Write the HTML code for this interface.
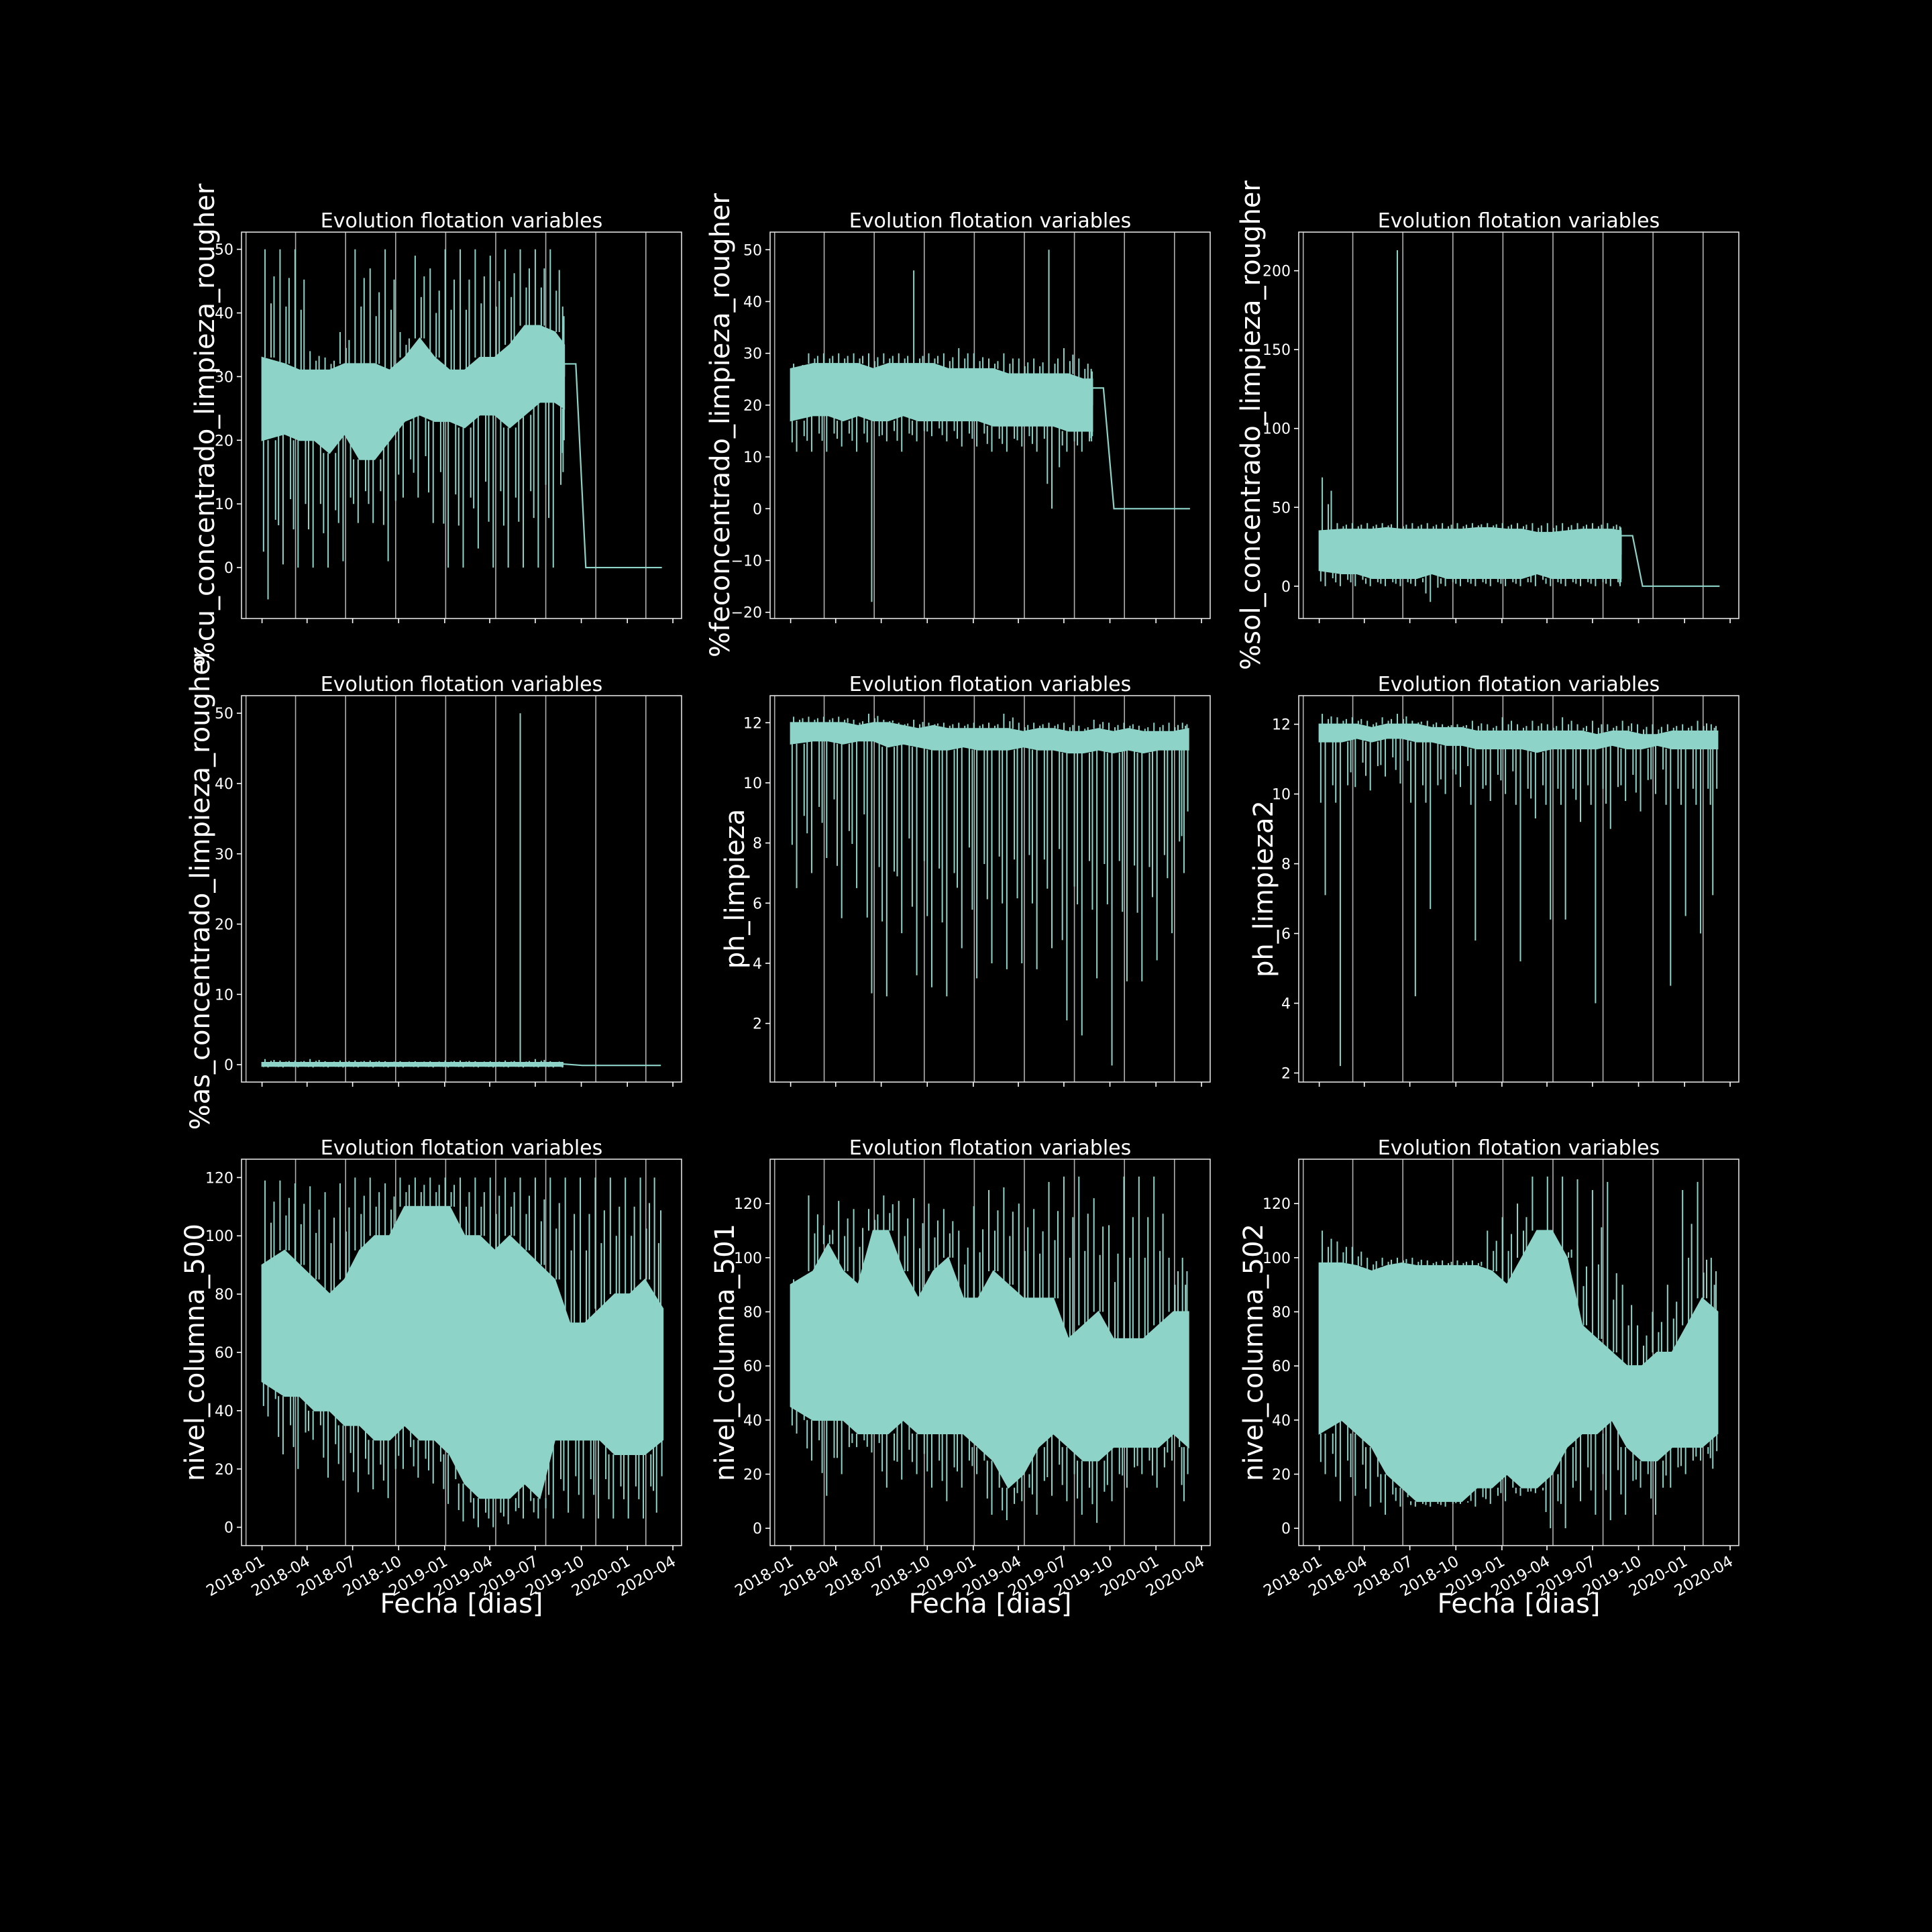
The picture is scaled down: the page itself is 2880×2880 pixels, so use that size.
<!DOCTYPE html>
<html><head><meta charset="utf-8"><style>
html,body{margin:0;padding:0;background:#000;}
svg{display:block;}
text{font-family:"DejaVu Sans","Liberation Sans",sans-serif;fill:#fff;}
</style></head><body>
<svg id="chart" width="2880" height="2880" viewBox="0 0 2880 2880" xmlns="http://www.w3.org/2000/svg">
<rect x="0" y="0" width="2880" height="2880" fill="#000"/>
</svg>
<script>
// ---- shared x axis data ----
const tickDays = [0, 90, 181, 273, 365, 455, 546, 638, 730, 821];
const tickLabels = ["2018-01","2018-04","2018-07","2018-10","2019-01","2019-04","2019-07","2019-10","2020-01","2020-04"];
const gridDays = [-32, 67, 167, 267, 367, 467, 567, 667, 767];

// ---- panel 1: %cu ----
const cuLo  = [20,21,20,20,18,21,17,17,20,23,24,23,23,22,24,24,22,24,26,26,25];
const cuHi  = [33,32,31,31,31,32,32,32,31,33,36,33,31,31,33,33,35,38,38,37,35];
const cuMax = [50,50,50,34,33,37,50,47,50,37,49,47,50,50,50,49,50,50,50,50,41];
const cuMin = [-5,0.5,0,0,0,1,7,7,1,11,11,7,0,0,3,0,0,0,0,0,15];
const cuTailDays = [604,627,647,799];
const cuTailVals = [32,32,0,0];
// ---- panel 2: %fe ----
const feLo  = [17,18,18,17,18,17,17,18,17,17,17,17,17,16,16,16,16,16,15,15,15];
const feHi  = [27,28,28,28,28,27,28,28,28,28,27,27,27,27,26,26,26,26,26,25,25];
const feMax = [28,30,30,30,30,30,30,30,46,30,30,31,30,29,30,29,29,50,31,29,27];
const feMin = [11,11,11,12,11,-18,13,11,13,14,13,12,12,11,11,12,11,0,11,11,13];
const feTailDays = [603,625,646,798];
const feTailVals = [23.3,23.3,0,0];
// ---- panel 3: %sol ----
const solLo  = [10,8,8,5,5,5,5,8,5,5,5,5,5,5,8,5,5,5,5,5,5];
const solHi  = [35,36,36,36,37,36,36,36,36,36,37,37,36,36,34,34,35,36,36,36,35];
const solMax = [69,40,40,40,40,213,40,40,40,40,40,40,40,40,40,40,40,40,40,40,38];
const solMin = [0,0,0,0,0,0,0,-10,0,0,0,0,0,0,0,0,0,0,0,0,0];
const solTailDays = [603,626,646,800];
const solTailVals = [32,32,0,0];
// ---- panel 4: %as ----
const asLo  = [-0.2,-0.2,-0.2,-0.2,-0.2,-0.2,-0.2,-0.2,-0.2,-0.2,-0.2,-0.2,-0.2,-0.2,-0.2,-0.2,-0.2,-0.2,-0.2,-0.2,-0.2];
const asHi  = [0.3,0.3,0.3,0.3,0.3,0.3,0.3,0.3,0.3,0.3,0.3,0.3,0.3,0.3,0.3,0.3,0.3,0.3,0.3,0.3,0.3];
const asMax = [0.8,0.6,0.6,0.8,0.5,0.6,0.6,0.6,0.5,0.5,0.5,0.5,0.6,0.6,0.5,0.5,0.6,50,0.8,0.5,0.4];
const asMin = [-0.4,-0.4,-0.4,-0.4,-0.4,-0.4,-0.4,-0.4,-0.4,-0.4,-0.4,-0.4,-0.4,-0.4,-0.4,-0.4,-0.4,-0.4,-0.4,-0.4,-0.4];
const asTailDays = [601,640,797];
const asTailVals = [0.1,-0.1,-0.1];
// ---- panel 5: ph_limpieza ----
const phLo  = [11.3,11.4,11.4,11.3,11.4,11.4,11.2,11.3,11.2,11.1,11.1,11.2,11.1,11.1,11.1,11.2,11.1,11.1,11.0,11.0,11.1,11.0,11.1,11.0,11.1,11.1,11.1];
const phHi  = [12.0,12.0,12.0,12.0,11.9,12.0,12.0,11.9,11.8,11.9,11.8,11.8,11.8,11.8,11.8,11.7,11.8,11.8,11.7,11.7,11.8,11.7,11.8,11.7,11.7,11.7,11.8];
const phMax = [12.2,12.2,12.2,12.2,12.1,12.3,12.1,12.0,12.1,12.0,12.0,12.0,12.0,12.0,12.3,12.0,12.0,12.0,12.0,11.9,12.1,12.0,12.0,11.9,12.0,12.0,12.0];
const phMin = [6.5,7.0,7.5,5.5,6.5,3.0,2.9,5.0,3.6,3.2,2.9,4.5,3.5,4.0,3.8,4.0,3.8,4.5,2.1,1.6,3.5,0.6,3.4,3.4,4.1,5.0,7.0];
// ---- panel 6: ph_limpieza2 ----
const ph2Lo  = [11.5,11.5,11.6,11.5,11.6,11.6,11.5,11.5,11.4,11.4,11.3,11.3,11.3,11.3,11.2,11.3,11.3,11.3,11.3,11.4,11.3,11.3,11.4,11.3,11.3,11.3,11.3];
const ph2Hi  = [12.0,12.0,12.0,11.9,12.0,12.0,12.0,11.9,11.9,11.9,11.8,11.8,11.8,11.8,11.8,11.8,11.8,11.8,11.7,11.8,11.8,11.7,11.7,11.8,11.8,11.8,11.8];
const ph2Max = [12.3,12.2,12.2,12.1,12.2,12.3,12.1,12.1,12.0,12.0,12.1,12.0,12.2,12.0,12.1,12.0,12.2,12.0,12.1,12.0,12.1,12.0,12.0,12.0,12.0,12.1,12.0];
const ph2Min = [7.1,2.2,10.2,10.1,10.5,10.3,4.2,6.7,10.0,10.2,5.8,9.8,10.0,5.2,9.3,6.4,6.4,9.2,4.0,9.0,9.8,9.5,10.0,4.5,6.5,6.0,7.1];
// ---- panel 7: nivel_columna_500 ----
const n500Lo  = [50,45,45,40,40,35,35,30,30,35,30,30,25,15,10,10,10,15,10,30,30,30,30,25,25,25,30];
const n500Hi  = [90,95,90,85,80,85,95,100,100,110,110,110,110,100,100,95,100,95,90,85,70,70,75,80,80,85,75];
const n500Max = [119,119,118,117,115,118,120,120,118,120,120,120,120,120,120,120,120,120,120,120,120,120,120,120,120,120,120];
const n500Min = [38,25,20,30,17,16,12,13,10,20,17,15,8,2,0,0,1,3,3,3,5,3,3,3,3,3,5];
// ---- panel 8: nivel_columna_501 ----
const n501Lo  = [45,40,40,40,35,35,35,40,35,35,35,35,30,25,15,20,30,35,30,25,25,30,30,30,30,35,30];
const n501Hi  = [90,95,105,95,90,110,110,95,85,95,100,85,85,95,90,85,85,85,70,75,80,70,70,70,75,80,80];
const n501Max = [92,123,112,121,118,118,123,121,122,120,118,110,119,125,126,120,118,128,130,130,122,112,130,130,130,100,100];
const n501Min = [35,25,12,20,30,28,15,18,20,15,10,15,20,5,3,10,5,12,10,5,2,10,15,20,15,25,10];
// ---- panel 9: nivel_columna_502 ----
const n502Lo  = [35,40,35,30,20,15,10,10,10,10,15,15,20,15,15,20,30,35,35,40,30,25,25,30,30,30,35];
const n502Hi  = [98,98,97,95,97,98,97,97,97,97,97,95,90,100,110,110,100,75,70,65,60,60,65,65,75,85,80];
const n502Max = [110,106,104,100,100,100,100,99,99,99,99,110,115,120,130,130,130,129,125,128,90,75,80,90,125,128,100];
const n502Min = [20,10,12,8,5,8,8,8,8,9,8,9,10,12,13,0,0,10,5,3,5,15,5,15,20,25,22];

const BIN = 30;
const PX_PER_DAY = 0.746;
const DAY0_OFFSET = 30.6;

const panels = [
 {name:"cu", x:360, y:346, w:656, h:576, ymin:-8, ymax:52.7, ticks:[0,10,20,30,40,50], ylabel:"%cu_concentrado_limpieza_rougher", ylx:305, lo:cuLo, hi:cuHi, mx:cuMax, mn:cuMin, td:cuTailDays, tv:cuTailVals, end:604, xlab:false},
 {name:"fe", x:1148, y:346, w:656, h:576, ymin:-21.2, ymax:53.4, ticks:[-20,-10,0,10,20,30,40,50], ylabel:"%feconcentrado_limpieza_rougher", ylx:1073, lo:feLo, hi:feHi, mx:feMax, mn:feMin, td:feTailDays, tv:feTailVals, end:603, xlab:false},
 {name:"sol", x:1936, y:346, w:656, h:576, ymin:-20.5, ymax:224.5, ticks:[0,50,100,150,200], ylabel:"%sol_concentrado_limpieza_rougher", ylx:1864, lo:solLo, hi:solHi, mx:solMax, mn:solMin, td:solTailDays, tv:solTailVals, end:603, xlab:false},
 {name:"as", x:360, y:1037, w:656, h:576, ymin:-2.47, ymax:52.5, ticks:[0,10,20,30,40,50], ylabel:"%as_concentrado_limpieza_rougher", ylx:298, lo:asLo, hi:asHi, mx:asMax, mn:asMin, td:asTailDays, tv:asTailVals, end:601, xlab:false},
 {name:"ph", x:1148, y:1037, w:656, h:576, ymin:0.05, ymax:12.9, ticks:[2,4,6,8,10,12], ylabel:"ph_limpieza", ylx:1095, lo:phLo, hi:phHi, mx:phMax, mn:phMin, td:null, tv:null, end:795, xlab:false},
 {name:"ph2", x:1936, y:1037, w:656, h:576, ymin:1.74, ymax:12.82, ticks:[2,4,6,8,10,12], ylabel:"ph_limpieza2", ylx:1883, lo:ph2Lo, hi:ph2Hi, mx:ph2Max, mn:ph2Min, td:null, tv:null, end:796, xlab:false},
 {name:"n500", x:360, y:1728, w:656, h:576, ymin:-6.3, ymax:126.3, ticks:[0,20,40,60,80,100,120], ylabel:"nivel_columna_500", ylx:290, lo:n500Lo, hi:n500Hi, mx:n500Max, mn:n500Min, td:null, tv:null, end:801, xlab:true},
 {name:"n501", x:1148, y:1728, w:656, h:576, ymin:-6.4, ymax:136.4, ticks:[0,20,40,60,80,100,120], ylabel:"nivel_columna_501", ylx:1080, lo:n501Lo, hi:n501Hi, mx:n501Max, mn:n501Min, td:null, tv:null, end:795, xlab:true},
 {name:"n502", x:1936, y:1728, w:656, h:576, ymin:-6.4, ymax:136.4, ticks:[0,20,40,60,80,100,120], ylabel:"nivel_columna_502", ylx:1868, lo:n502Lo, hi:n502Hi, mx:n502Max, mn:n502Min, td:null, tv:null, end:796, xlab:true}
];

const NS = "http://www.w3.org/2000/svg";
const svg = document.getElementById("chart");
const TEAL = "#8dd3c7";
function mk(tag, attrs, parent){ const e=document.createElementNS(NS,tag); for(const k in attrs) e.setAttribute(k,attrs[k]); (parent||svg).appendChild(e); return e; }
function median(a){ const s=a.slice().sort((x,y)=>x-y); return s[Math.floor(s.length/2)]; }

panels.forEach(p => {
  const g = mk("g", {});
  
  
  const xs = d => p.x + DAY0_OFFSET + d * PX_PER_DAY;
  const ys = v => p.y + p.h - (v - p.ymin) / (p.ymax - p.ymin) * p.h;

  gridDays.forEach(d => {
    const l = mk("line", {x1:xs(d), x2:xs(d), y1:p.y, y2:p.y+p.h, stroke:"#b0b0b0", "stroke-width":1.6}, g);
    
    
  });

  const sg = mk("g", {}, g);
  
  
  const n = p.lo.length;
  const top = [], bot = [];
  for (let i = 0; i < n; i++) {
    const d0 = i * BIN, d1 = Math.min((i + 1) * BIN, p.end);
    if (d1 <= d0) continue;
    const dc = i === 0 ? d0 : (d1 === p.end ? d1 : (d0 + d1) / 2);
    top.push(xs(dc) + "," + ys(p.hi[i]));
    bot.unshift(xs(dc) + "," + ys(p.lo[i]));
  }
  const band = mk("polygon", {points: top.concat(bot).join(" "), fill:TEAL, stroke:TEAL, "stroke-width":2}, sg);
  
  

  const medMax = median(p.mx), medMin = median(p.mn);
  const spanR = p.ymax - p.ymin;
  for (let i = 0; i < n; i++) {
    const d0 = i * BIN, d1 = Math.min((i + 1) * BIN, p.end);
    if (d1 <= d0) continue;
    const x0 = xs(d0), w = xs(d1) - x0;
    const hiY = ys(p.hi[i]), loY = ys(p.lo[i]);
    const mxY = ys(p.mx[i]), mnY = ys(p.mn[i]);
    // partial spikes reach toward the panel's typical extreme, not an outlier
    const pMax = (p.mx[i] - medMax > 0.15 * spanR) ? Math.max(p.hi[i], medMax) : p.mx[i];
    const pMin = (medMin - p.mn[i] > 0.15 * spanR) ? Math.min(p.lo[i], medMin) : p.mn[i];
    const pMxY = ys(pMax), pMnY = ys(pMin);
    const segs = [
      [0.2, hiY, mxY, 'spike-max'],
      [0.6, hiY, (hiY + pMxY) / 2, 'spike-max-mid'],
      [0.8, hiY, hiY + (pMxY - hiY) * 0.75, 'spike-max-part'],
      [0.4, loY, mnY, 'spike-min'],
      [0.9, loY, (loY + pMnY) / 2, 'spike-min-mid'],
      [0.1, loY, loY + (pMnY - loY) * 0.7, 'spike-min-part']
    ];
    segs.forEach(s => {
      const l = mk("line", {x1:x0+w*s[0], x2:x0+w*s[0], y1:s[1], y2:s[2], stroke:TEAL, "stroke-width":2}, sg);
      
      
    });
  }
  if (p.td) {
    let pts = [xs(p.end)+","+ys((p.lo[n-1]+p.hi[n-1])/2)];
    p.td.forEach((d,k) => pts.push(xs(d)+","+ys(p.tv[k])));
    const pl = mk("polyline", {points:pts.join(" "), fill:"none", stroke:TEAL, "stroke-width":2.2}, sg);
    
    
  }

  const fr = mk("rect", {x:p.x, y:p.y, width:p.w, height:p.h, fill:"none", stroke:"#e0e0e0", "stroke-width":1.6}, g);
  
  

  p.ticks.forEach(t => {
    const y = ys(t);
    const tl = mk("line", {x1:p.x-7, x2:p.x, y1:y, y2:y, stroke:"#fff", "stroke-width":1.6}, g);
    
    
    const tx = mk("text", {x:p.x-12, y:y+8, "text-anchor":"end", "font-size":22}, g);
    tx.textContent = (t < 0 ? "\u2212" + Math.abs(t) : String(t));
    
    
  });

  tickDays.forEach((d, k) => {
    const x = xs(d);
    const tl = mk("line", {x1:x, x2:x, y1:p.y+p.h, y2:p.y+p.h+7, stroke:"#fff", "stroke-width":1.6}, g);
    
    
    if (p.xlab) {
      const tx = mk("text", {x:0, y:0, "text-anchor":"end", "font-size":23, transform:`translate(${x+6},${p.y+p.h+28}) rotate(-30)`}, g);
      tx.textContent = tickLabels[k];
      
      
    }
  });

  const ti = mk("text", {x:p.x+p.w/2, y:p.y-7, "text-anchor":"middle", "font-size":30}, g);
  ti.textContent = "Evolution flotation variables";
  
  

  const yl = mk("text", {x:0, y:0, "text-anchor":"middle", "font-size":40, transform:`translate(${p.ylx+14},${p.y+p.h/2}) rotate(-90)`}, g);
  yl.textContent = p.ylabel;
  
  

  if (p.xlab) {
    const xl = mk("text", {x:p.x+p.w/2, y:2404, "text-anchor":"middle", "font-size":40}, g);
    xl.textContent = "Fecha [dias]";
    
    
  }
});
</script>
</body></html>
